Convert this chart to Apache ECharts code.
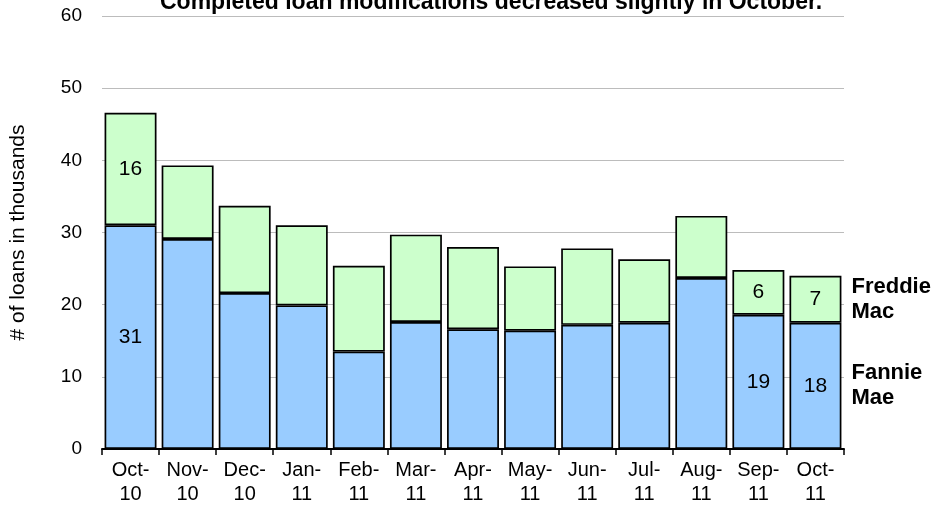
<!DOCTYPE html>
<html>
<head>
<meta charset="utf-8">
<script src="https://cdn.jsdelivr.net/npm/echarts@6/dist/echarts.min.js"></script>
<style>
  html, body { margin: 0; padding: 0; background: #fff; }
  #chart { width: 934px; height: 509px; }
</style>
</head>
<body>
<div id="chart"></div>
<script>
// months shown on the x axis
var months = ['Oct-10', 'Nov-10', 'Dec-10', 'Jan-11', 'Feb-11', 'Mar-11', 'Apr-11',
  'May-11', 'Jun-11', 'Jul-11', 'Aug-11', 'Sep-11', 'Oct-11']
// completed modifications, thousands of loans
var fannieMae = [31.0, 29.1, 21.6, 19.9, 13.5, 17.6, 16.6, 16.4, 17.2, 17.5, 23.7, 18.6, 17.5]
var freddieMac = [15.6, 10.2, 12.1, 11.1, 11.9, 12.1, 11.4, 8.9, 10.6, 8.8, 8.6, 6.2, 6.5]
// bars that carry a value label
var labelled = [0, 11, 12]
var yTicks = [0, 10, 20, 30, 40, 50, 60]

var font = 'Liberation Sans, Arial, sans-serif'
var last = months.length - 1

function withLabels(arr) {
  return arr.map(function (v, i) {
    return {
      value: v,
      label: { show: labelled.indexOf(i) > -1 }
    }
  })
}

var myChart = echarts.init(document.getElementById('chart'))

var option = {
  animation: false,
  textStyle: { fontFamily: font },
  title: {
    text: 'Completed loan modifications decreased slightly in October.',
    left: 155,
    top: -14,
    textStyle: { fontFamily: font, fontSize: 23, fontWeight: 'bold', color: '#000' }
  },
  grid: { left: 102, right: 90, top: 16, bottom: 60 },
  xAxis: {
    type: 'category',
    data: months,
    axisLine: { lineStyle: { color: '#000', width: 2 } },
    axisTick: { show: true, length: 6, lineStyle: { color: '#000', width: 1.5 } },
    axisLabel: {
      interval: 0,
      margin: 9,
      fontSize: 20,
      lineHeight: 24,
      color: '#000',
      formatter: function (v) { return v.replace('-', '-\n') }
    }
  },
  yAxis: {
    type: 'value',
    min: yTicks[0],
    max: yTicks[yTicks.length - 1],
    interval: 10,
    name: '# of loans in thousands',
    nameLocation: 'middle',
    nameRotate: 90,
    nameGap: 73,
    nameTextStyle: { fontSize: 21, color: '#000', fontFamily: font },
    axisLine: { show: false },
    axisTick: { show: false },
    axisLabel: { fontSize: 19, color: '#000', margin: 20 },
    splitLine: { lineStyle: { color: '#bcbcbc', width: 1 } }
  },
  series: [
    {
      name: 'Fannie Mae',
      type: 'bar',
      stack: 'loans',
      barCategoryGap: '9%',
      data: withLabels(fannieMae),
      itemStyle: { color: '#99ccff', borderColor: '#000', borderWidth: 1.7 },
      label: {
        position: 'inside',
        fontSize: 21,
        color: '#000',
        formatter: function (p) { return Math.round(p.value) }
      },
      markPoint: {
        symbol: 'rect',
        symbolSize: [60, 1],
        itemStyle: { color: 'rgba(0,0,0,0)' },
        label: {
          show: true,
          position: 'right',
          distance: 6,
          fontSize: 22,
          lineHeight: 25,
          fontWeight: 'bold',
          color: '#000',
          formatter: 'Fannie\nMae'
        },
        data: [{ coord: [last, fannieMae[last] / 2] }]
      }
    },
    {
      name: 'Freddie Mac',
      type: 'bar',
      stack: 'loans',
      barCategoryGap: '9%',
      data: withLabels(freddieMac),
      itemStyle: { color: '#ccffcc', borderColor: '#000', borderWidth: 1.7 },
      label: {
        position: 'inside',
        fontSize: 21,
        color: '#000',
        formatter: function (p) { return Math.round(p.value) }
      },
      markPoint: {
        symbol: 'rect',
        symbolSize: [60, 1],
        itemStyle: { color: 'rgba(0,0,0,0)' },
        label: {
          show: true,
          position: 'right',
          distance: 6,
          fontSize: 22,
          lineHeight: 25,
          fontWeight: 'bold',
          color: '#000',
          formatter: 'Freddie\nMac'
        },
        data: [{ coord: [last, fannieMae[last] + freddieMac[last] / 2] }]
      }
    }
  ]
}

myChart.setOption(option)
</script>
</body>
</html>
